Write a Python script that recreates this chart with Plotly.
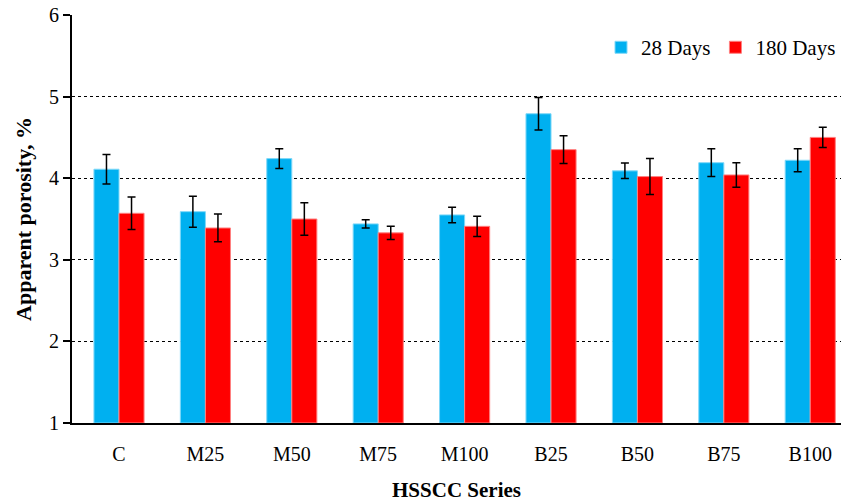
import plotly.graph_objects as go

categories = ["C", "M25", "M50", "M75", "M100", "B25", "B50", "B75", "B100"]
days28 = [4.11, 3.59, 4.24, 3.44, 3.55, 4.79, 4.09, 4.19, 4.22]
days28_err = [0.18, 0.19, 0.12, 0.05, 0.095, 0.20, 0.095, 0.17, 0.14]
days180 = [3.57, 3.39, 3.50, 3.33, 3.41, 4.35, 4.02, 4.04, 4.50]
days180_err = [0.20, 0.17, 0.20, 0.08, 0.125, 0.17, 0.22, 0.15, 0.125]
y_ticks = [1, 2, 3, 4, 5, 6]

FONT = "Liberation Serif, Times New Roman, serif"

fig = go.Figure()
fig.add_trace(go.Bar(
    x=categories, y=[v - 1 for v in days28], base=1, name="28 Days",
    marker=dict(color="#00B0F0", line=dict(color="#7FD8F8", width=1)),
    error_y=dict(type="data", array=days28_err, color="black", thickness=1.5, width=4),
))
fig.add_trace(go.Bar(
    x=categories, y=[v - 1 for v in days180], base=1, name="180 Days",
    marker=dict(color="#FF0000", line=dict(color="#FF8080", width=1)),
    error_y=dict(type="data", array=days180_err, color="black", thickness=1.5, width=4),
))

fig.update_layout(
    width=841, height=502,
    margin=dict(l=72, r=0, t=15, b=77),
    paper_bgcolor="white", plot_bgcolor="white",
    barmode="group", bargap=0.42, bargroupgap=0,
    font=dict(family=FONT, size=20, color="black"),
    showlegend=True,
    legend=dict(orientation="h", x=1.0, xanchor="right", y=0.92, yanchor="middle",
                font=dict(family=FONT, size=21), bgcolor="rgba(0,0,0,0)",
                itemwidth=30, tracegroupgap=0),
    xaxis=dict(
        type="category", range=[-0.544, 8.356],
        showline=True, linecolor="black", linewidth=2,
        ticks="", showgrid=False, ticklabelstandoff=12,
        tickfont=dict(family=FONT, size=20),
        title=dict(text="<b>HSSCC Series</b>", font=dict(family=FONT, size=21), standoff=22),
    ),
    yaxis=dict(
        range=[1, 6], tickvals=y_ticks,
        showline=True, linecolor="black", linewidth=2,
        ticks="outside", ticklen=7, tickcolor="black", tickwidth=1.5,
        showgrid=True, gridcolor="black", gridwidth=1, griddash="dot",
        zeroline=False,
        tickfont=dict(family=FONT, size=20),
        title=dict(text="<b>Apparent porosity, %</b>", font=dict(family=FONT, size=22), standoff=11),
    ),
)

fig.write_html("out.html", config={"displayModeBar": False})
with open("out.html", "r", encoding="utf-8") as f:
    html = f.read()
html = html.replace("<head>", "<head><style>html,body{margin:0;padding:0;overflow:hidden;}</style>", 1)
with open("out.html", "w", encoding="utf-8") as f:
    f.write(html)
